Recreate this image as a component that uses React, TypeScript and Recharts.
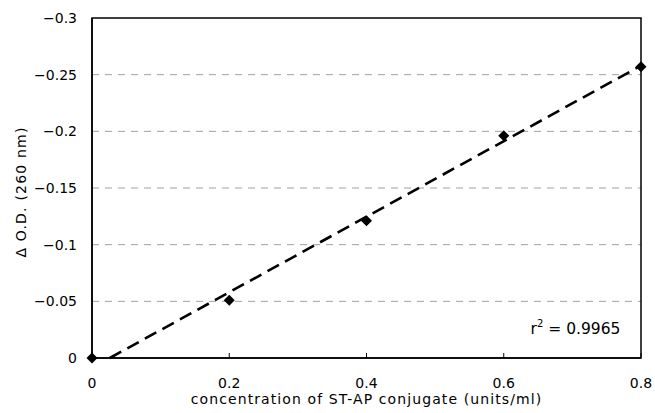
import React from 'react';
import {
  ComposedChart,
  Scatter,
  Line,
  XAxis,
  YAxis,
  CartesianGrid,
  ReferenceArea,
  ReferenceDot,
} from 'recharts';

const concentrations = [0, 0.2, 0.4, 0.6, 0.8];
const deltaOD = [0, -0.051, -0.121, -0.196, -0.257];
const trendX = [0.026, 0.8];
const trendY = [0, -0.258];
const xTicks = [0, 0.2, 0.4, 0.6, 0.8];
const yTicks = [0, -0.05, -0.1, -0.15, -0.2, -0.25, -0.3];
const rSquaredLabel = '0.9965';
const xTitle = 'concentration of ST-AP conjugate (units/ml)';
const yTitle = 'Δ O.D. (260 nm)';

const points = concentrations.map((x, i) => ({ x, y: deltaOD[i] }));
const trend = trendX.map((x, i) => ({ x, y: trendY[i] }));

const FONT = '"DejaVu Sans", Verdana, sans-serif';

const Diamond = (props: any) => {
  const { cx, cy } = props;
  const r = 5.5;
  return (
    <path
      d={`M${cx},${cy - r}L${cx + r},${cy}L${cx},${cy + r}L${cx - r},${cy}Z`}
      fill="#000"
    />
  );
};

const fmt = (v: number) => {
  if (v === 0) return '0';
  const s = String(Math.round(v * 1000) / 1000);
  return s.replace('-', '\u2212');
};

const YTitle = (props: any) => {
  const vb = props.viewBox || {};
  const cx = 21;
  const cy = vb.y + vb.height / 2 + 4;
  return (
    <text
      x={cx}
      y={cy}
      transform={`rotate(-90, ${cx}, ${cy})`}
      textAnchor="middle"
      dominantBaseline="central"
      fontFamily={FONT}
      fontSize={14}
      letterSpacing={1.2}
      fill="#000"
    >
      {yTitle}
    </text>
  );
};

const XTitle = (props: any) => {
  const vb = props.viewBox || {};
  const cx = vb.x + vb.width / 2;
  return (
    <text
      x={cx}
      y={404}
      textAnchor="middle"
      fontFamily={FONT}
      fontSize={14}
      letterSpacing={1.1}
      fill="#000"
    >
      {xTitle}
    </text>
  );
};

const RLabel = (props: any) => {
  const vb = props.viewBox || {};
  const x = vb.x + (vb.width || 0) / 2;
  const y = vb.y + (vb.height || 0) / 2;
  return (
    <text x={x} y={y} textAnchor="end" fontFamily={FONT} fontSize={15.5} fill="#000">
      <tspan>r</tspan>
      <tspan dy={-7} fontSize={10}>2</tspan>
      <tspan dy={7}>{` = ${rSquaredLabel}`}</tspan>
    </text>
  );
};

export default function App() {
  return (
    <div style={{ position: 'absolute', left: 0, top: 0, background: '#fff' }}>
      <ComposedChart
        width={655}
        height={413}
        margin={{ top: 18, right: 14, left: 32, bottom: 10 }}
      >
        <CartesianGrid
          vertical={false}
          stroke="#a0a0a0"
          strokeDasharray="7 6"
          horizontalValues={[-0.05, -0.1, -0.15, -0.2, -0.25]}
        />
        <XAxis
          type="number"
          dataKey="x"
          domain={[0, 0.8]}
          ticks={xTicks}
          tickFormatter={fmt}
          stroke="#000"
          strokeWidth={1.5}
          tickSize={-5}
          tickMargin={25}
          height={45}
          tick={{ fill: '#000', fontFamily: FONT, fontSize: 14 }}
          tickLine={{ stroke: '#000', strokeWidth: 1 }}
          label={<XTitle />}
        />
        <YAxis
          type="number"
          dataKey="y"
          domain={[-0.3, 0]}
          reversed
          ticks={yTicks}
          tickFormatter={fmt}
          stroke="#000"
          strokeWidth={1.5}
          tickLine={false}
          tickSize={0}
          tickMargin={15}
          width={60}
          tick={{ fill: '#000', fontFamily: FONT, fontSize: 14 }}
          label={<YTitle />}
        />
        <ReferenceArea
          x1={0}
          x2={0.8}
          y1={-0.3}
          y2={0}
          fill="none"
          stroke="#000"
          strokeWidth={1.5}
        />
        <Line
          data={trend}
          dataKey="y"
          type="linear"
          stroke="#000"
          strokeWidth={2.6}
          strokeDasharray="13 7"
          dot={false}
          activeDot={false}
          isAnimationActive={false}
          legendType="none"
        />
        <Scatter data={points} dataKey="y" shape={<Diamond />} isAnimationActive={false} />
        <ReferenceDot x={0.77} y={-0.021} r={0} fill="none" stroke="none" label={<RLabel />} />
      </ComposedChart>
    </div>
  );
}
